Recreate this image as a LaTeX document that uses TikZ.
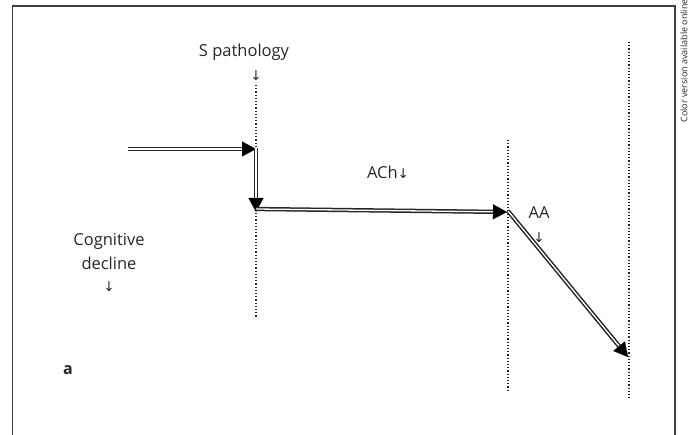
\documentclass[tikz,border=0pt]{standalone}
\usepackage{fontspec}
\setmainfont{Open Sans}
\newfontfamily\arrfont{DejaVu Sans}
\usetikzlibrary{arrows.meta,calc}
\newcommand\dnarr{{\arrfont\fontsize{13.5}{15}\selectfont ↓}}
\begin{document}
\begin{tikzpicture}[x=1pt,y=-1pt,
  lbl/.style={font=\fontsize{16.5}{19}\selectfont, inner sep=0pt, text=black!85},
  dbl/.style={draw=black!85, line width=1.5pt, double=white, double distance=1.3pt, shorten >=11pt},
  headtip/.style={-{Triangle[length=14pt,width=15pt]}, line width=0.1pt, black},
  vdot/.style={dotted, line width=1.2pt, black!85},
  frame/.style={line width=1.4pt, black!75}
]
\useasboundingbox (0,0) rectangle (689,435);
\draw[frame] (12.7,435) -- (12.7,6) -- (675,6) -- (675,435);
\node[rotate=90, anchor=east, inner sep=0pt, font=\fontsize{9}{10}\selectfont, text=black!85] (online) at (684,-1) {Color version available online};

% dotted guide lines
\coordinate (d1t) at (256,85);  \coordinate (d1b) at (256,318);
\coordinate (d2t) at (508,140); \coordinate (d2b) at (508,390);
\coordinate (d3t) at (629,42);  \coordinate (d3b) at (629,400);
\draw[vdot] (d1t) -- (d1b);
\draw[vdot] (d2t) -- (d2b);
\draw[vdot] (d3t) -- (d3b);

% arrows
\coordinate (p0) at (128,149);
\coordinate (p1) at (256,149);
\coordinate (q0) at (256,148);
\coordinate (q1) at (256,212);
\coordinate (r0) at (256,209);
\coordinate (r1) at (507,212);
\coordinate (s0) at (508,211);
\coordinate (s1) at (628,357);
\foreach \a/\b in {p0/p1,q0/q1,r0/r1,s0/s1}{
  \draw[dbl] (\a) -- (\b);
  \draw[headtip] ($(\b)!14pt!(\a)$) -- (\b);
}

% labels
\node[lbl] (spath) at (244,52) {S pathology};
\node[lbl] (spatharr) at (256,76) {\dnarr};
\node[lbl] (ach) at (388,172) {ACh\dnarr};
\node[lbl] (cog1) at (109,241) {Cognitive};
\node[lbl] (cog2) at (109,263) {decline};
\node[lbl] (cog3) at (109,287) {\dnarr};
\node[lbl] (aa) at (539,213) {AA};
\node[lbl] (aaarr) at (539,238) {\dnarr};
\node[lbl, font=\bfseries\fontsize{16}{18}\selectfont] (lab) at (68,370) {a};
\end{tikzpicture}
\end{document}
